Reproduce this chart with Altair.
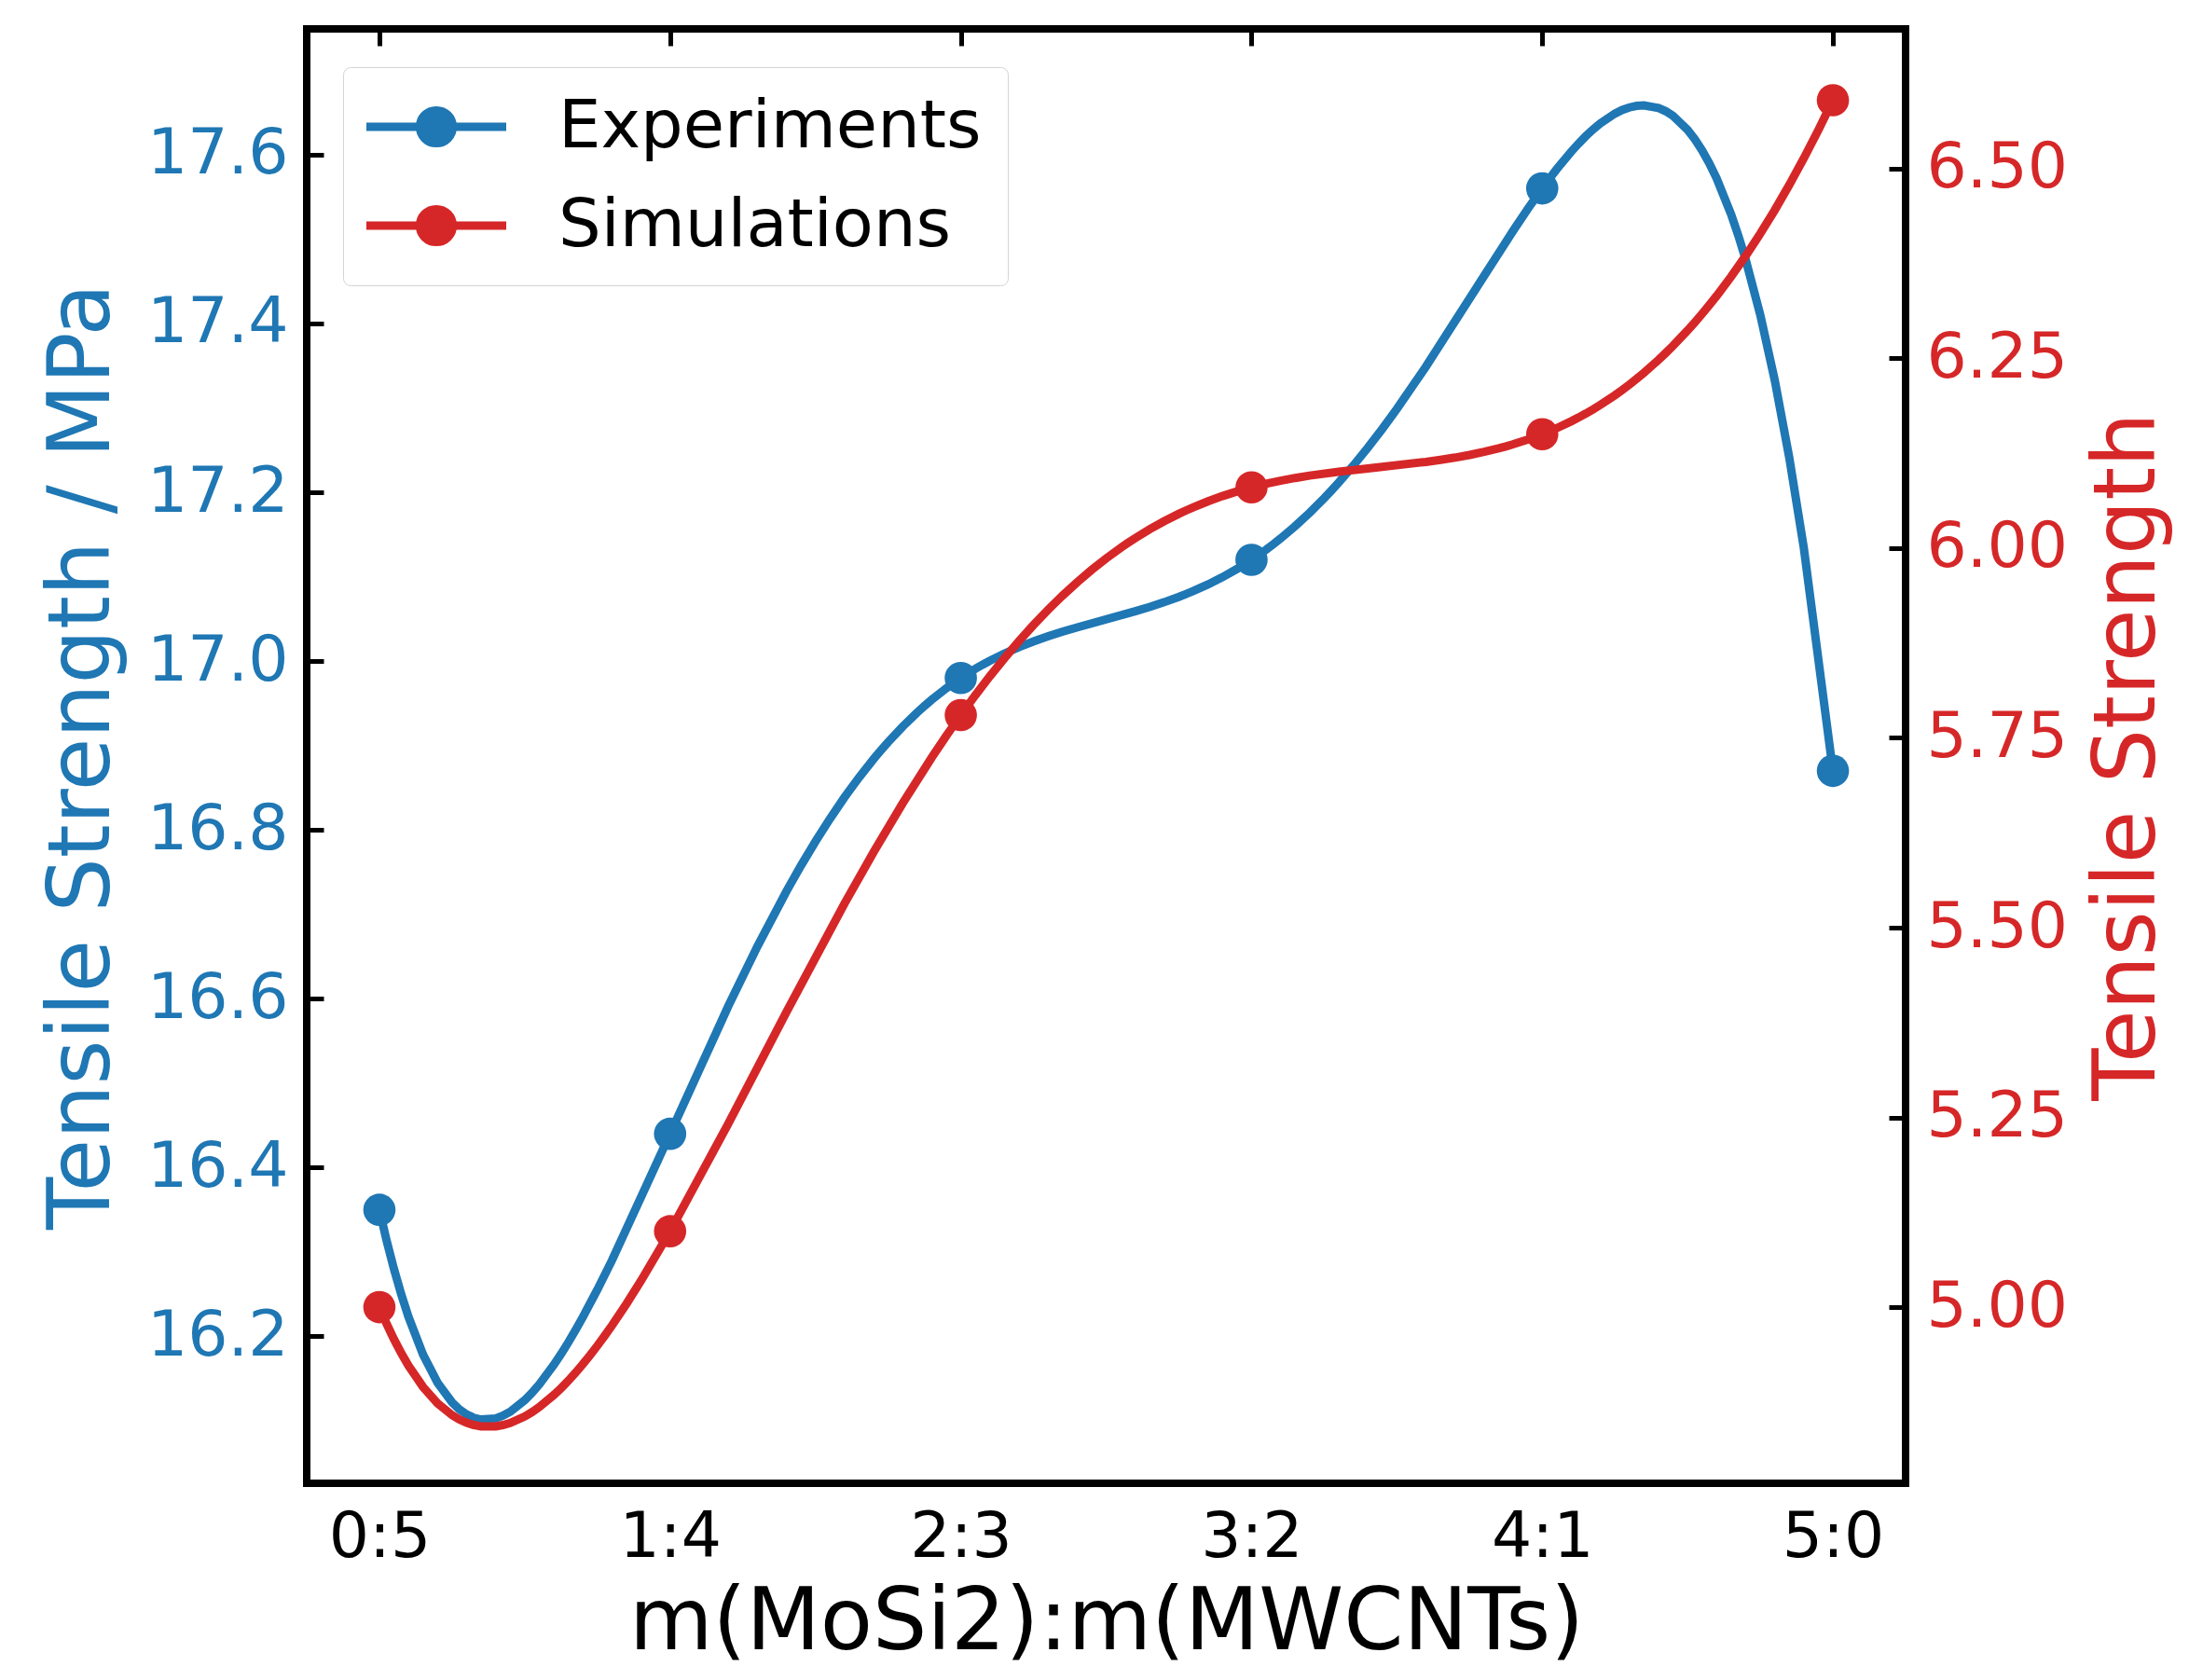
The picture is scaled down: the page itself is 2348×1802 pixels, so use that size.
import altair as alt
import pandas as pd

# mass ratio categories and the two measured series
ratios = ['0:5', '1:4', '2:3', '3:2', '4:1', '5:0']
experiments = [16.35, 16.44, 16.98, 17.12, 17.56, 16.87]
simulations = [5.00, 5.10, 5.78, 6.08, 6.15, 6.59]
series_names = ['Experiments', 'Simulations']
series_colors = ['#1f77b4', '#d62728']
left_ticks = [16.2, 16.4, 16.6, 16.8, 17.0, 17.2, 17.4, 17.6]
right_ticks = [5.0, 5.25, 5.5, 5.75, 6.0, 6.25, 6.5]
left_domain = [16.026, 17.749]
right_domain = [4.768, 6.684]

exp_df = pd.DataFrame({'ratio': ratios, 'value': experiments, 'series': series_names[0]})
sim_df = pd.DataFrame({'ratio': ratios, 'value': simulations, 'series': series_names[1]})

FONT = 'DejaVu Sans'
TICK = 18
LABEL_SIZE = 68
TITLE_SIZE = 92
LINE_W = 9
DOT = 1200

# position of each ratio along x, and the ratio text back for the axis labels
ratio_js = '[' + ','.join("'%s'" % r for r in ratios) + ']'
idx_expr = 'indexof(%s, datum.ratio)' % ratio_js
label_expr = '%s[round(datum.value)]' % ratio_js

# legend symbol: short line with a dot in the middle
legend_path = 'M-3.75,0H3.75M0.88,0A0.88,0.88,0,1,1,-0.88,0A0.88,0.88,0,1,1,0.88,0Z'

color = alt.Color('series:N',
                  scale=alt.Scale(domain=series_names, range=series_colors),
                  legend=alt.Legend(title=None, orient='none', legendX=39, legendY=41,
                                    symbolType=legend_path, symbolSize=1600,
                                    symbolStrokeWidth=LINE_W, symbolOpacity=1,
                                    labelFont=FONT, labelFontSize=72, labelColor='black',
                                    labelLimit=1000,
                                    padding=28, rowPadding=34, labelOffset=95, symbolOffset=36,
                                    fillColor='white', strokeColor='#d4d4d4', cornerRadius=8))

xscale = alt.Scale(domain=[-0.25, 5.25], nice=False, zero=False)
x_labels = alt.X('idx:Q', scale=xscale,
                 axis=alt.Axis(title='m(MoSi2):m(MWCNTs)', values=[0, 1, 2, 3, 4, 5],
                               labelExpr=label_expr, labelAngle=0, ticks=False, domain=False,
                               labelPadding=24, labelFontSize=LABEL_SIZE, labelColor='black',
                               titleFontSize=TITLE_SIZE, titlePadding=12, titleColor='black'))
x_ticks = alt.X('idx:Q', scale=xscale,
                axis=alt.Axis(title=None, values=[0, 1, 2, 3, 4, 5], labels=False, domain=False,
                              tickSize=TICK, tickWidth=5, tickColor='black', offset=-TICK))
x_plain = alt.X('idx:Q', scale=xscale, axis=None)


def y_axes(domain, ticks, fmt, side, col, title, title_pad):
    if side == 'right':
        lab = alt.Axis(title=title, orient=side, values=ticks, format=fmt, ticks=False, domain=False,
                       labelPadding=22, labelFontSize=LABEL_SIZE, labelColor=col,
                       titleFontSize=TITLE_SIZE, titleColor=col, titlePadding=title_pad,
                       titleAngle=270, titleBaseline='top')
    else:
        lab = alt.Axis(title=title, orient=side, values=ticks, format=fmt, ticks=False, domain=False,
                       labelPadding=20, labelFontSize=LABEL_SIZE, labelColor=col,
                       titleFontSize=TITLE_SIZE, titleColor=col, titlePadding=title_pad)
    tck = alt.Axis(title=None, orient=side, values=ticks, labels=False, domain=False,
                   tickSize=TICK, tickWidth=5, tickColor='black', offset=-TICK)
    sc = alt.Scale(domain=domain, nice=False, zero=False)
    return (alt.Y('value:Q', scale=sc, axis=lab), alt.Y('value:Q', scale=sc, axis=tck))


ey_lab, ey_tck = y_axes(left_domain, left_ticks, '.1f', 'left', series_colors[0],
                        'Tensile Strength / MPa', 22)
sy_lab, sy_tck = y_axes(right_domain, right_ticks, '.2f', 'right', series_colors[1],
                        'Tensile Strength', 20)


def curve(df):
    # smooth curve through the six points (degree-5 polynomial)
    return alt.Chart(df).transform_calculate(idx=idx_expr).transform_regression(
        'idx', 'value', method='poly', order=5, extent=[0, 5], groupby=['series']
    ).mark_line(strokeWidth=LINE_W)


def dots(df):
    return alt.Chart(df).transform_calculate(idx=idx_expr).mark_circle(size=DOT, opacity=1)


exp_line = curve(exp_df).encode(x=x_labels, y=ey_lab, color=color)
exp_pts = dots(exp_df).encode(x=x_ticks, y=ey_tck, color=color)
sim_line = curve(sim_df).encode(x=x_plain, y=sy_lab, color=color)
sim_pts = dots(sim_df).encode(x=x_plain, y=sy_tck, color=color)

chart = alt.layer(exp_line, exp_pts, sim_line, sim_pts).resolve_scale(
    y='independent'
).resolve_axis(
    x='independent', y='independent'
).properties(
    width=1715, height=1560,
    padding={'left': 34, 'top': 20, 'right': 5, 'bottom': 5},
    background='white'
).configure_view(
    stroke='black', strokeWidth=8
).configure_axis(
    grid=False, labelFont=FONT, titleFont=FONT, titleFontWeight='normal'
)

chart.save('out.html', embed_options={'renderer': 'svg', 'actions': False})
